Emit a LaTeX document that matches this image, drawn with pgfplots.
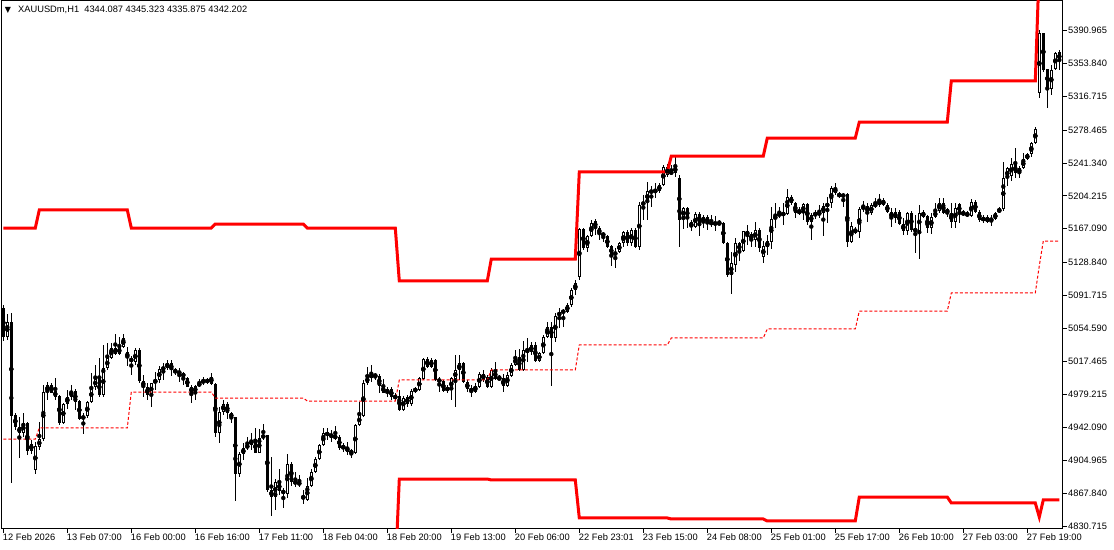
\documentclass[border=0pt]{standalone}
\usepackage{pgfplots}
\usepackage{pgfplotstable}
\pgfplotsset{compat=1.18}
\usepackage{fontspec}
\setmainfont{Liberation Sans}
\newfontfamily\dejavu{DejaVu Sans}

\pgfplotstableread{
i o h l c
0 5077.3 5080.7 5040.0 5044.5
1 5044.5 5070.5 5041.1 5061.5
2 5061.5 5071.7 4879.4 4955.2
3 4956.3 4958.6 4939.3 4942.7
4 4942.7 4954.0 4907.7 4935.9
5 4935.9 4958.6 4931.4 4947.3
6 4947.3 4948.4 4911.1 4915.6
7 4915.6 4928.0 4912.2 4923.5
8 4894.1 4925.8 4889.6 4921.2
9 4920.1 4948.4 4916.7 4929.2
10 4929.2 4990.2 4926.9 4982.3
11 4982.3 4993.6 4973.3 4990.2
12 4990.2 4992.5 4981.2 4981.2
13 4983.4 4998.1 4973.3 4976.7
14 4977.8 4978.5 4945.0 4947.3
15 4947.3 4969.9 4946.1 4968.7
16 4968.7 4984.6 4963.1 4976.7
17 4976.7 4990.2 4973.3 4983.4
18 4983.4 4985.7 4962.0 4971.0
19 4972.1 4973.3 4950.6 4951.8
20 4951.8 4958.6 4934.8 4955.2
21 4955.2 4972.1 4952.9 4971.0
22 4971.0 5003.8 4969.9 4988.0
23 4988.0 5012.8 4984.6 4997.0
24 4997.0 5020.8 4976.7 4978.9
25 4978.9 5035.5 4976.7 5009.5
26 5009.5 5037.7 5007.2 5020.8
27 5020.8 5037.7 5019.8 5032.1
28 5032.1 5047.9 5024.2 5025.3
29 5025.3 5044.5 5024.2 5033.2
30 5033.2 5047.9 5032.1 5043.4
31 5027.6 5033.2 5011.7 5020.8
32 5020.8 5023.0 5001.5 5016.2
33 5016.2 5032.1 5012.8 5029.8
34 5029.8 5032.1 4992.5 4994.8
35 4994.8 5001.5 4976.7 4988.0
36 4988.0 4992.5 4973.3 4978.9
37 4978.9 4993.0 4965.3 4992.5
38 4992.5 5004.9 4984.6 4995.9
39 4995.9 5011.7 4992.5 5008.3
40 5008.3 5015.1 4995.9 5009.5
41 5009.5 5018.5 5007.2 5015.1
42 5015.1 5018.5 5000.4 5007.2
43 5007.2 5009.5 5001.5 5004.9
44 5006.1 5009.5 4993.6 5002.7
45 5003.8 5004.9 4990.2 4999.3
46 4998.1 4999.3 4987.5 4988.0
47 4988.0 4990.2 4969.9 4981.2
48 4981.2 4990.2 4973.3 4989.1
49 4989.1 4997.0 4988.0 4992.5
50 4992.5 4999.3 4990.2 4995.9
51 4995.9 4998.1 4991.4 4993.6
52 4999.3 5003.8 4990.2 4991.4
53 4991.4 4992.5 4931.4 4935.9
54 4935.9 4965.3 4924.6 4959.7
55 4959.7 4973.3 4956.3 4968.7
56 4968.7 4971.0 4951.8 4958.6
57 4958.6 4959.7 4947.3 4952.9
58 4954.0 4954.5 4859.0 4889.6
59 4889.6 4914.4 4886.2 4912.2
60 4912.2 4924.6 4905.4 4919.0
61 4919.0 4931.4 4916.7 4922.4
62 4922.4 4935.9 4916.7 4928.0
63 4928.0 4941.6 4912.8 4913.3
64 4913.3 4940.5 4912.8 4930.3
65 4930.3 4946.1 4928.0 4933.7
66 4933.7 4934.2 4869.2 4871.5
67 4871.5 4908.8 4842.0 4863.6
68 4863.6 4883.9 4848.8 4880.5
69 4880.5 4895.2 4865.8 4870.3
70 4871.5 4873.7 4851.1 4867.0
71 4867.0 4912.2 4862.4 4900.9
72 4900.9 4903.1 4876.0 4880.5
73 4881.6 4891.8 4874.9 4878.3
74 4879.4 4888.4 4874.9 4878.3
75 4864.7 4871.5 4855.6 4861.3
76 4860.2 4885.0 4859.0 4876.0
77 4876.0 4895.2 4874.9 4891.8
78 4891.8 4908.8 4890.7 4906.5
79 4906.5 4923.5 4905.4 4922.4
80 4922.4 4941.6 4921.2 4935.9
81 4935.9 4941.6 4928.0 4933.7
82 4934.8 4939.3 4925.8 4931.4
83 4932.5 4943.8 4928.0 4930.3
84 4931.4 4933.7 4916.7 4919.0
85 4922.4 4924.6 4914.4 4917.8
86 4920.1 4925.8 4911.1 4914.4
87 4915.6 4917.8 4907.7 4913.3
88 4913.3 4946.1 4912.2 4945.0
89 4945.0 4971.0 4943.8 4956.3
90 4955.2 4995.9 4954.0 4992.5
91 4992.5 5010.6 4990.2 4999.3
92 4999.3 5012.8 4993.6 5001.5
93 5001.5 5003.8 4995.9 5000.4
94 5000.4 5002.7 4981.2 4989.1
95 4989.1 4997.0 4980.8 4981.2
96 4981.2 4988.0 4976.7 4985.7
97 4985.7 4988.0 4973.3 4976.7
98 4975.5 4981.2 4972.1 4977.8
99 4977.8 4984.6 4960.8 4962.0
100 4962.0 4977.8 4960.8 4975.5
101 4976.7 4978.9 4965.3 4968.7
102 4968.7 4985.7 4966.5 4983.4
103 4983.4 4988.0 4981.2 4985.7
104 4984.6 4999.3 4983.4 4998.1
105 4997.0 5020.8 4995.9 5019.6
106 5019.6 5021.9 5009.5 5010.7
107 5010.7 5020.8 5009.5 5018.5
108 5018.5 5019.6 4994.8 4995.9
109 4997.0 4999.3 4982.3 4993.6
110 4994.8 4995.9 4982.3 4983.4
111 4984.6 4990.2 4981.2 4986.8
112 4984.6 4999.3 4973.3 4998.1
113 4997.0 5024.2 4965.3 5007.2
114 5007.2 5024.2 4995.9 5015.1
115 5015.1 5016.2 4992.5 4993.6
116 4993.6 4995.9 4982.3 4985.7
117 4986.8 4990.2 4976.7 4982.3
118 4982.3 4992.5 4981.2 4989.1
119 4988.0 5004.9 4986.8 5002.7
120 5002.7 5007.2 4993.6 4995.9
121 4999.3 5001.5 4986.8 4988.0
122 4988.0 5009.5 4986.8 5007.2
123 5007.2 5016.2 4995.9 4997.0
124 4997.0 5001.5 4995.9 4998.1
125 4998.1 5002.7 4982.3 4989.1
126 4989.1 5004.9 4988.0 5001.5
127 5000.4 5015.1 4999.3 5012.8
128 5012.8 5029.8 5011.7 5021.9
129 5021.9 5030.9 5006.1 5007.2
130 5007.2 5040.0 5006.1 5029.8
131 5029.8 5043.4 5016.2 5027.6
132 5027.6 5038.9 5024.2 5035.5
133 5035.5 5038.9 5016.2 5017.4
134 5017.4 5027.6 5016.2 5026.4
135 5026.4 5046.8 5025.3 5044.5
136 5044.5 5061.5 5043.4 5055.8
137 5055.8 5061.5 4989.1 5043.4
138 5043.4 5071.7 5038.9 5068.3
139 5068.3 5077.3 5054.7 5072.8
140 5072.8 5076.2 5055.8 5073.9
141 5072.8 5083.0 5071.7 5080.7
142 5080.7 5099.9 5078.6 5097.7
143 5097.7 5109.0 5092.0 5105.6
144 5112.4 5167.8 5109.0 5166.7
145 5166.7 5167.8 5142.9 5145.2
146 5145.2 5159.9 5140.7 5158.6
147 5158.6 5176.9 5158.1 5173.5
148 5175.7 5178.0 5159.9 5167.8
149 5167.8 5170.1 5154.2 5161.0
150 5162.2 5163.3 5152.0 5158.8
151 5158.8 5159.9 5145.2 5146.3
152 5147.4 5148.6 5124.8 5137.3
153 5137.3 5145.2 5122.6 5140.7
154 5140.7 5152.0 5139.5 5150.8
155 5150.8 5164.4 5146.3 5163.3
156 5163.3 5165.6 5147.4 5150.8
157 5150.8 5167.8 5147.4 5165.6
158 5165.6 5167.8 5145.2 5146.3
159 5146.3 5197.2 5142.9 5193.8
160 5193.8 5205.1 5176.9 5197.2
161 5197.2 5219.8 5176.9 5209.7
162 5210.8 5215.3 5191.6 5207.4
163 5210.8 5218.7 5201.7 5208.5
164 5209.7 5218.7 5207.4 5216.4
165 5216.4 5238.8 5215.3 5236.5
166 5227.4 5239.9 5225.1 5236.5
167 5232.3 5238.8 5227.4 5228.6
168 5230.0 5250.4 5225.1 5237.6
169 5224.4 5227.8 5146.3 5176.9
170 5179.1 5191.6 5166.7 5190.4
171 5190.4 5191.6 5167.8 5179.1
172 5174.6 5176.9 5164.4 5168.9
173 5168.9 5185.9 5167.8 5183.6
174 5183.6 5185.9 5158.6 5173.5
175 5173.5 5182.5 5167.8 5180.2
176 5180.2 5182.5 5165.6 5173.5
177 5174.6 5182.5 5168.9 5172.3
178 5172.3 5181.4 5164.4 5173.5
179 5173.5 5176.9 5171.2 5172.3
180 5173.5 5174.6 5149.7 5150.8
181 5150.8 5152.0 5112.4 5114.6
182 5114.6 5140.7 5093.2 5128.2
183 5125.9 5156.5 5118.0 5150.8
184 5150.8 5152.0 5130.5 5141.8
185 5141.8 5165.0 5140.7 5164.4
186 5164.4 5171.2 5148.6 5159.9
187 5161.0 5163.3 5146.3 5154.2
188 5154.2 5174.6 5146.3 5165.6
189 5165.6 5167.8 5140.7 5145.2
190 5135.0 5153.1 5128.2 5147.4
191 5146.3 5159.9 5137.3 5153.1
192 5152.0 5191.6 5144.1 5178.0
193 5178.0 5196.1 5167.8 5181.4
194 5181.4 5191.6 5179.1 5184.8
195 5184.8 5196.1 5171.2 5182.5
196 5183.6 5211.9 5182.5 5202.9
197 5202.9 5205.1 5193.8 5196.1
198 5196.1 5197.2 5179.1 5184.8
199 5187.0 5191.6 5182.5 5184.8
200 5184.8 5196.1 5176.9 5194.9
201 5194.9 5196.1 5171.2 5174.6
202 5174.6 5184.8 5154.2 5182.5
203 5182.5 5188.2 5178.0 5184.8
204 5182.5 5193.8 5179.1 5185.9
205 5184.8 5196.1 5158.8 5192.7
206 5191.6 5202.9 5173.5 5196.1
207 5196.1 5215.3 5190.4 5213.1
208 5213.1 5218.7 5205.1 5207.4
209 5207.4 5208.5 5201.7 5202.9
210 5202.9 5207.4 5191.6 5206.3
211 5206.3 5207.4 5146.3 5152.0
212 5152.0 5174.6 5150.8 5170.1
213 5166.7 5168.9 5161.0 5162.2
214 5163.3 5191.6 5156.5 5189.3
215 5189.3 5198.4 5185.9 5192.7
216 5192.7 5196.1 5174.6 5184.8
217 5184.8 5196.1 5182.5 5193.8
218 5192.7 5201.7 5190.4 5194.9
219 5199.5 5206.3 5191.6 5193.8
220 5193.8 5201.7 5192.7 5199.5
221 5193.8 5196.1 5184.8 5185.9
222 5185.9 5190.4 5168.9 5179.1
223 5179.1 5190.4 5173.5 5185.9
224 5185.9 5188.2 5171.2 5172.3
225 5172.3 5179.1 5159.9 5164.4
226 5164.4 5185.9 5159.9 5184.8
227 5184.8 5187.0 5163.3 5165.6
228 5166.7 5182.5 5139.5 5164.4
229 5164.4 5193.8 5132.7 5184.8
230 5185.9 5188.2 5179.1 5180.2
231 5181.4 5182.5 5162.2 5167.8
232 5167.8 5184.8 5161.0 5180.2
233 5180.2 5196.1 5179.1 5187.0
234 5187.0 5201.7 5184.8 5196.1
235 5196.1 5201.7 5184.3 5184.8
236 5189.3 5190.4 5180.2 5184.8
237 5184.8 5196.1 5167.8 5174.6
238 5174.6 5196.1 5167.8 5190.4
239 5194.9 5196.1 5173.5 5184.8
240 5183.6 5188.2 5181.4 5184.8
241 5181.4 5187.0 5180.2 5184.8
242 5181.4 5200.6 5180.2 5197.2
243 5197.2 5199.5 5184.8 5185.9
244 5185.9 5188.2 5174.6 5176.9
245 5175.7 5182.5 5173.5 5180.2
246 5180.2 5182.5 5173.5 5174.6
247 5175.7 5182.5 5170.1 5179.1
248 5178.0 5185.9 5176.9 5184.8
249 5185.9 5191.6 5184.8 5189.3
250 5189.3 5242.5 5187.0 5224.4
251 5224.4 5236.6 5215.3 5235.4
252 5226.6 5247.0 5221.0 5240.2
253 5240.2 5258.3 5224.4 5230.0
254 5230.0 5237.6 5224.4 5235.4
255 5235.4 5252.6 5234.3 5245.9
256 5245.9 5252.6 5244.7 5251.5
257 5251.5 5265.1 5248.1 5263.9
258 5263.9 5282.0 5262.8 5279.8
259 5320.5 5391.8 5315.2 5388.4
260 5388.4 5389.0 5344.3 5346.5
261 5347.7 5348.0 5303.5 5326.2
262 5325.0 5352.2 5318.2 5346.5
263 5347.7 5366.9 5346.5 5365.8
264 5366.9 5369.2 5346.5 5356.7
}\candles

\pgfplotstableread{
i v
0 5167.8
8 5167.8
9 5188.2
31 5188.2
32 5167.8
52 5167.8
53 5172.3
75 5172.3
76 5167.8
98 5167.8
99 5107.9
121 5107.9
122 5132.7
143 5132.7
144 5231.2
166 5231.2
167 5249.2
190 5249.2
191 5269.6
213 5269.6
214 5287.7
236 5287.7
237 5334.1
258 5334.1
259 5465.0
260 5446.0
264 5446.0
}\upperband

\pgfplotstableread{
i v
0 4690.4
8 4690.4
9 4695.0
31 4695.0
32 4796.8
52 4796.8
53 4778.7
75 4778.7
76 4776.4
98 4776.4
99 4883.9
121 4883.9
122 4882.8
143 4882.8
144 4839.8
166 4839.8
167 4838.7
190 4838.7
191 4836.4
213 4836.4
214 4863.5
236 4863.5
237 4856.8
258 4856.8
259 4840.9
260 4860.2
264 4860.2
}\lowerband

\pgfplotstableread{
i v
0 4929.1
8 4929.1
9 4941.6
31 4941.6
32 4982.3
52 4982.3
53 4975.5
75 4975.5
76 4972.1
98 4972.1
99 4995.9
121 4995.9
122 5007.2
143 5007.2
144 5035.5
166 5035.5
167 5043.4
190 5043.4
191 5053.6
213 5053.6
214 5073.9
236 5073.9
237 5094.3
258 5094.3
259 5125.0
260 5153.1
264 5153.1
}\midband

\begin{document}
\begin{tikzpicture}
\useasboundingbox (0,0) rectangle (1114pt,549pt);
\fill[white] (0,0) rectangle (1114pt,549pt);
\begin{axis}[
  at={(2pt,20pt)}, anchor=south west,
  width=1061pt, height=528pt, scale only axis,
  xmin=-0.325, xmax=264.925,
  ymin=4827.35, ymax=5424.57,
  axis line style={black, line width=1pt},
  tick align=outside,
  major tick length=4pt,
  tick style={black, line width=0.8pt},
  xtick pos=bottom, ytick pos=right,
  yticklabel pos=right,
  xtick={0,16,...,256},
  xticklabels={12 Feb 2026,13 Feb 07:00,16 Feb 00:00,16 Feb 16:00,17 Feb 11:00,18 Feb 04:00,18 Feb 20:00,19 Feb 13:00,20 Feb 06:00,22 Feb 23:01,23 Feb 15:00,24 Feb 08:00,25 Feb 01:00,25 Feb 17:00,26 Feb 10:00,27 Feb 03:00,27 Feb 19:00},
  ytick={4830.715,4867.840,4904.965,4942.090,4979.215,5017.465,5054.590,5091.715,5128.840,5167.090,5204.215,5241.340,5278.465,5316.715,5353.840,5390.965},
  yticklabels={4830.715,4867.840,4904.965,4942.090,4979.215,5017.465,5054.590,5091.715,5128.840,5167.090,5204.215,5241.340,5278.465,5316.715,5353.840,5390.965},
  xticklabel style={anchor=north west, inner sep=0pt, font=\fontsize{9.3}{10}\selectfont, xshift=-0.5pt, yshift=-1pt},
  yticklabel style={anchor=west, inner sep=0pt, font=\fontsize{9.3}{10}\selectfont, xshift=1pt},
  grid=none,
]
% wicks
\addplot[only marks, mark=none,
  error bars/.cd, y dir=both, y explicit, error mark=none,
  error bar style={draw=black, line width=1pt}]
  table[x=i, y expr={(\thisrow{h}+\thisrow{l})/2}, y error expr={(\thisrow{h}-\thisrow{l})/2}] {\candles};
% bodies
\addplot[only marks, mark=none,
  error bars/.cd, y dir=both, y explicit, error mark=none,
  error bar style={draw=black, line width=3pt}]
  table[x=i, y expr={(\thisrow{o}+\thisrow{c})/2}, y error expr={max(abs(\thisrow{c}-\thisrow{o})/2,0.6)}] {\candles};
% hollow interior of rising candles
\addplot[only marks, mark=none,
  error bars/.cd, y dir=both, y explicit, error mark=none,
  error bar style={draw=white, line width=1pt}]
  table[x=i, y expr={(\thisrow{o}+\thisrow{c})/2}, y error expr={(\thisrow{c}>\thisrow{o})*max(abs(\thisrow{c}-\thisrow{o})/2-1.13,0)}] {\candles};
% bands
\addplot[red, line width=3pt, no marks] table[x=i, y=v] {\upperband};
\addplot[red, line width=3pt, no marks] table[x=i, y=v] {\lowerband};
\addplot[red, line width=1pt, no marks, dash pattern=on 3pt off 2pt] table[x=i, y=v] {\midband};
\end{axis}
\node[anchor=center, inner sep=0pt] at (8pt,539pt) {\dejavu\fontsize{8}{8}\selectfont ▼};
\node[anchor=west, inner sep=0pt, font=\fontsize{9.3}{10}\selectfont] at (18pt,539pt) {XAUUSDm,H1\ \ 4344.087 4345.323 4335.875 4342.202};
\end{tikzpicture}
\end{document}
